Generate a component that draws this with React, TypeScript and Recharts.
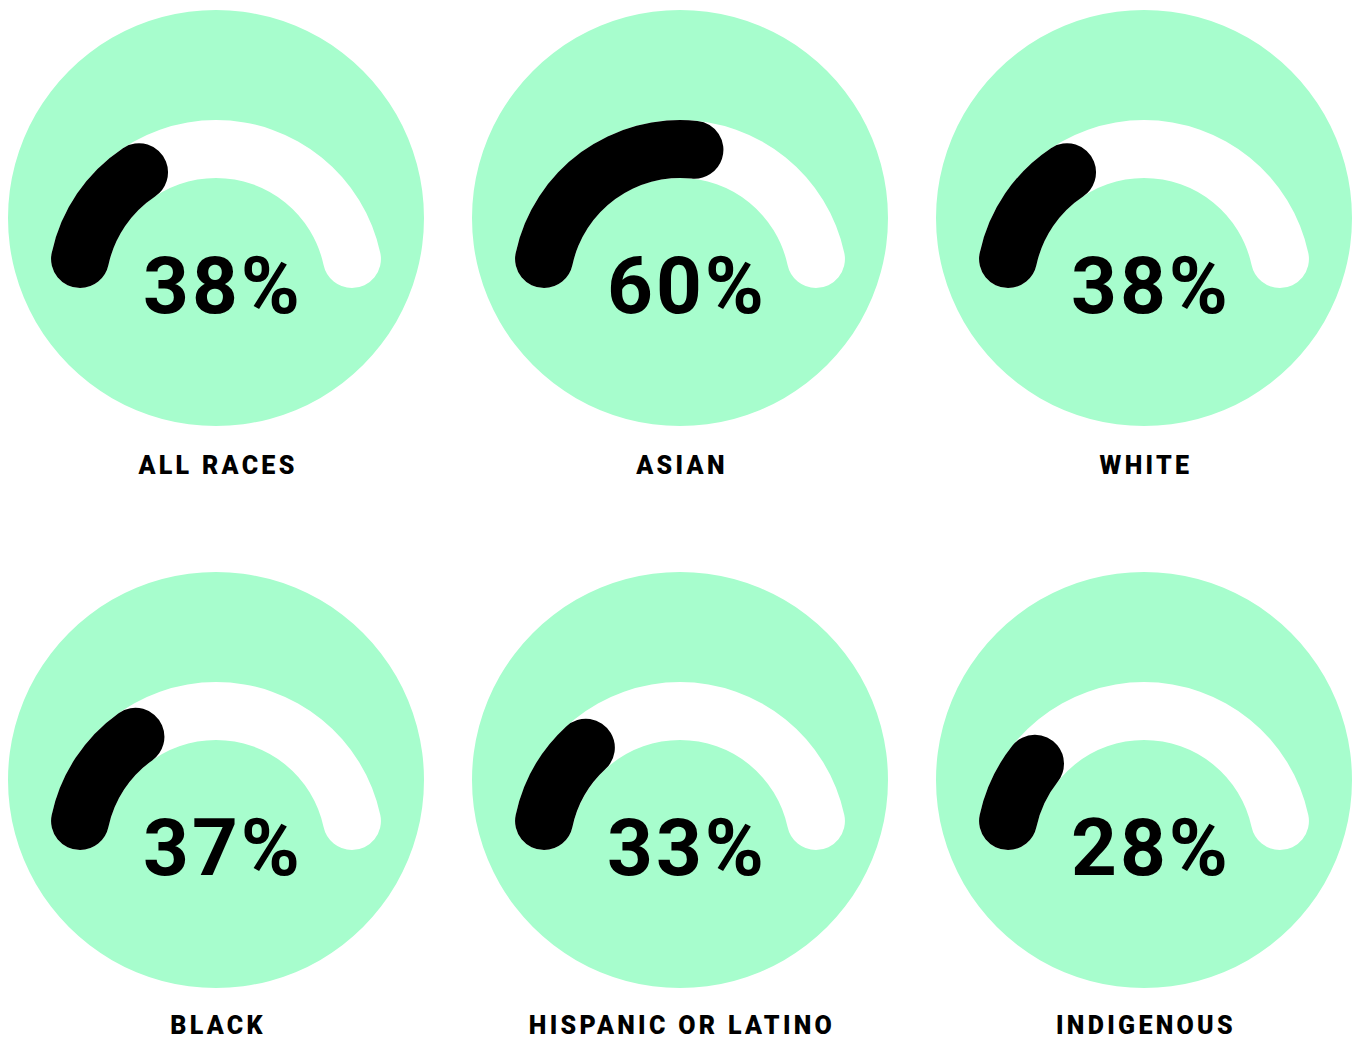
import { PieChart, Pie, Cell } from 'recharts';

// share of each group (percent)
const groups = ['ALL RACES', 'ASIAN', 'WHITE', 'BLACK', 'HISPANIC OR LATINO', 'INDIGENOUS'];
const shares = [38, 60, 38, 37, 33, 28];

const MINT = '#a7fdcd';
const colX = [216, 680, 1144];
const rowY = [218, 780];

const FONT = 'Roboto, "Noto Sans", sans-serif';

export default function App() {
  const panels = groups.map((name, i) => ({
    name,
    value: shares[i],
    cx: colX[i % 3],
    cy: rowY[Math.floor(i / 3)],
  }));

  return (
    <div style={{ position: 'absolute', left: 0, top: 0, width: 1356, height: 1040, background: '#fff' }}>
      <PieChart width={1356} height={1040} margin={{ top: 0, right: 0, bottom: 0, left: 0 }}>
        {panels.map((p) => (
          <Pie
            key={`bg-${p.name}`}
            data={[{ value: 1 }]}
            dataKey="value"
            cx={p.cx}
            cy={p.cy}
            innerRadius={0}
            outerRadius={208}
            fill={MINT}
            stroke="none"
            isAnimationActive={false}
          />
        ))}
        {panels.map((p) => (
          <Pie
            key={`track-${p.name}`}
            data={[{ value: 100 }]}
            dataKey="value"
            cx={p.cx}
            cy={p.cy + 70}
            startAngle={180}
            endAngle={0}
            innerRadius={110}
            outerRadius={168}
            cornerRadius={29}
            fill="#ffffff"
            stroke="none"
            isAnimationActive={false}
          />
        ))}
        {panels.map((p) => (
          <Pie
            key={`val-${p.name}`}
            data={[{ value: p.value }, { value: 100 - p.value }]}
            dataKey="value"
            cx={p.cx}
            cy={p.cy + 70}
            startAngle={180}
            endAngle={0}
            innerRadius={110}
            outerRadius={168}
            cornerRadius={29}
            stroke="none"
            isAnimationActive={false}
          >
            <Cell fill="#000000" />
            <Cell fill="none" />
          </Pie>
        ))}
      </PieChart>
      <svg
        width={1356}
        height={1040}
        style={{ position: 'absolute', left: 0, top: 0, pointerEvents: 'none' }}
      >
        {panels.map((p) => (
          <g key={`txt-${p.name}`}>
            <text
              x={p.cx + 7}
              y={p.cy + 95}
              textAnchor="middle"
              fontFamily={FONT}
              fontWeight={700}
              fontSize={80}
              letterSpacing={3}
              fill="#000"
            >
              {`${p.value}%`}
            </text>
            <text
              x={p.cx + 2}
              y={Math.min(p.cy + 256, 1034)}
              textAnchor="middle"
              fontFamily={FONT}
              fontWeight={900}
              fontSize={25}
              letterSpacing={3.3}
              fill="#000"
            >
              {p.name}
            </text>
          </g>
        ))}
      </svg>
    </div>
  );
}
